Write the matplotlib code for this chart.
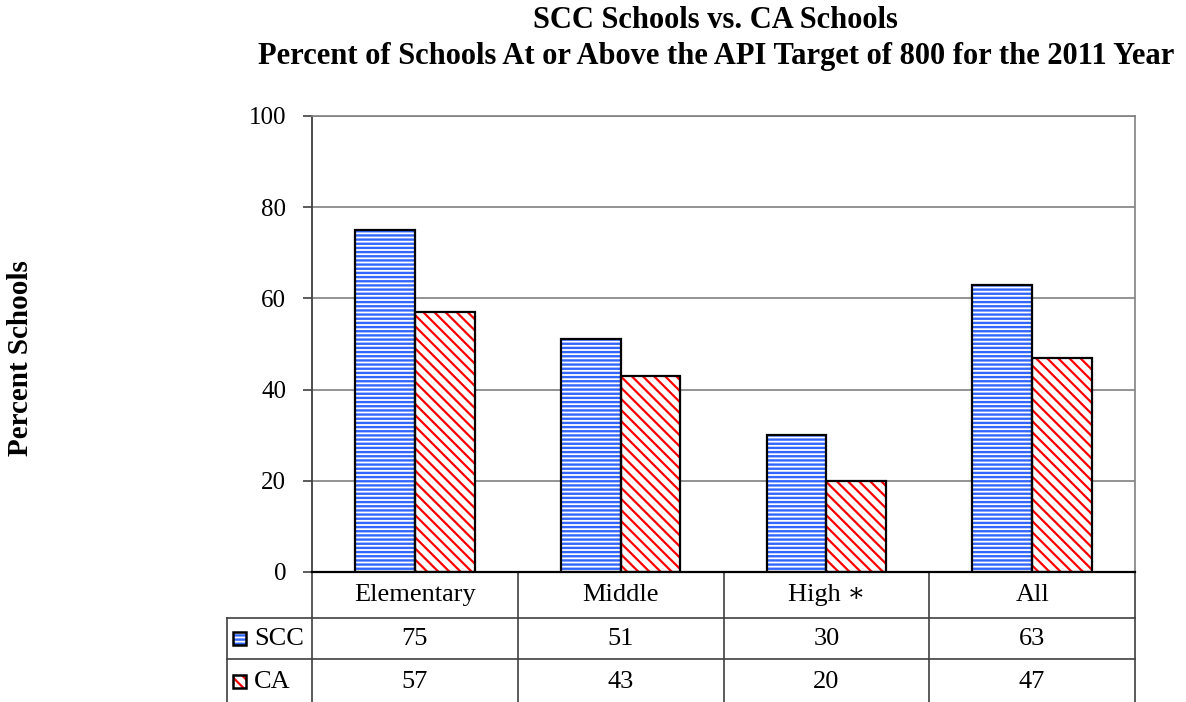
import matplotlib.pyplot as plt
import numpy as np
from matplotlib.lines import Line2D
from matplotlib.patches import Rectangle

plt.rcParams['font.family'] = ['Liberation Serif', 'DejaVu Serif']
plt.rcParams['hatch.linewidth'] = 1.7

categories = ['Elementary', 'Middle', 'High \u2217', 'All']
series = ['SCC', 'CA']
scc = [75, 51, 30, 63]
ca = [57, 43, 20, 47]
yticks = [0, 20, 40, 60, 80, 100]

fig = plt.figure(figsize=(11.86, 7.02), dpi=100)
ax = fig.add_axes([0.2631, 0.1852, 0.6939, 0.6496])

x = np.arange(len(categories))
w = 0.29
styles = [('#3366ff', '----', 1.7), ('#ff0000', '\\\\\\', 1.6)]

for i, vals in enumerate([scc, ca]):
    col, hatch, hlw = styles[i]
    pos = x - w / 2 + i * w
    with plt.rc_context({'hatch.linewidth': hlw}):
        ax.bar(pos, vals, w, color='white', edgecolor=col, hatch=hatch, linewidth=0, zorder=2)
    ax.bar(pos, vals, w, fill=False, edgecolor='black', linewidth=1.6, zorder=3)

ax.set_xlim(-0.5, len(categories) - 0.5)
ax.set_ylim(0, 100)
ax.set_yticks(yticks)
ax.set_xticks([])
ax.tick_params(axis='y', labelsize=18, length=6.5, width=1.2, color='#404040', pad=12)
ax.yaxis.grid(True, color='#808080', linewidth=1.2, zorder=0)
ax.set_axisbelow(True)
for s in ['top', 'right']:
    ax.spines[s].set_color('#808080')
    ax.spines[s].set_linewidth(1.2)
ax.spines['left'].set_color('#404040')
ax.spines['left'].set_linewidth(1.3)
ax.spines['bottom'].set_color('black')
ax.spines['bottom'].set_linewidth(1.6)

# table under the axes (axes fraction coords)
tr = ax.transAxes
rows_y = [0, -0.1009, -0.1908, -0.29]
lab_x = -0.1036
cw = 1.0 / len(categories)
lc = '#404040'
lines = []
lines.append(([lab_x, 1], [rows_y[1]] * 2))
lines.append(([lab_x, 1], [rows_y[2]] * 2))
lines.append(([lab_x, lab_x], [rows_y[1], rows_y[3]]))
for k in range(len(categories) + 1):
    lines.append(([k * cw, k * cw], [rows_y[0], rows_y[3]]))
for lx, ly in lines:
    ax.add_artist(Line2D(lx, ly, transform=tr, color=lc, linewidth=1.2, clip_on=False))

for k, c in enumerate(categories):
    ax.text((k + 0.5) * cw, (rows_y[0] + rows_y[1]) / 2, c, transform=tr,
            ha='center', va='center', fontsize=19)
    for r, vals in enumerate([scc, ca]):
        ax.text((k + 0.5) * cw, (rows_y[r + 1] + rows_y[r + 2]) / 2, str(vals[k]),
                transform=tr, ha='center', va='center', fontsize=19)

for r, name in enumerate(series):
    yc = (rows_y[r + 1] + rows_y[r + 2]) / 2
    col, hatch, hlw = styles[r]
    sw = 13 / 822
    sh = 13 / 456
    sx = lab_x + 6 / 822
    with plt.rc_context({'hatch.linewidth': hlw}):
        ax.add_patch(Rectangle((sx, yc - sh / 2), sw, sh, transform=tr,
                               facecolor='white', edgecolor=col, hatch=hatch,
                               linewidth=0, clip_on=False))
    ax.add_patch(Rectangle((sx, yc - sh / 2), sw, sh, transform=tr,
                           fill=False, edgecolor='black', linewidth=1.8, clip_on=False))
    ax.text(lab_x + 27 / 822, yc, name, transform=tr, ha='left', va='center', fontsize=19)

fig.text(0.6035, 0.971, 'SCC Schools vs. CA Schools', ha='center', va='center',
         fontsize=22, fontweight='bold')
fig.text(0.6035, 0.92, 'Percent of Schools At or Above the API Target of 800 for the 2011 Year',
         ha='center', va='center', fontsize=22, fontweight='bold')
fig.text(0.0177, 0.49, 'Percent Schools', rotation=90, ha='center', va='center',
         fontsize=21, fontweight='bold')

fig.savefig('out.png', dpi=100)
